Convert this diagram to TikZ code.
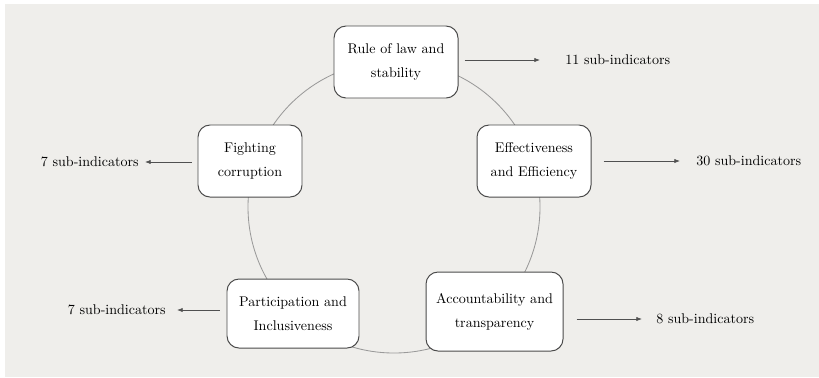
\documentclass[tikz,border=0pt]{standalone}
\usetikzlibrary{arrows.meta}

\definecolor{panelgray}{HTML}{EFEEEB}
\definecolor{boxline}{HTML}{4A4A4A}
\definecolor{ringline}{HTML}{9A9A9A}
\definecolor{arrowline}{HTML}{505050}

\newcommand\pxw{0.025cm}
\newcommand\pillartextstyle{\fontsize{10}{17}\selectfont}
\newcommand\counttextstyle{\fontsize{10}{13}\selectfont}

\tikzset{
  pillar/.style={draw=boxline, fill=white, line width=0.7pt,
    rounded corners=0.3cm, align=center, inner sep=0pt,
    font=\pillartextstyle},
  subcount/.style={inner sep=0pt, font=\counttextstyle},
  subarrow/.style={draw=arrowline, line width=0.5pt,
    -{Latex[length=4pt,width=3pt]}},
  ring/.style={draw=ringline, line width=0.6pt},
}

% name, x, y, width, height, text
\newcommand\pillar[6]{
  \node[pillar, minimum width=#4*\pxw, minimum height=#5*\pxw] (#1) at (#2,#3) {#6};
}

\begin{document}
\begin{tikzpicture}[x=\pxw, y=-\pxw]
  \useasboundingbox (0,0) rectangle (819,377);
  \fill[panelgray] (5,4) rectangle (819,377);
  \draw[ring] (394,207) circle[radius=146*\pxw];

  \pillar{rule}{396}{62}{124}{72}{Rule of law and\\stability}
  \pillar{effect}{534}{161}{114}{72}{Effectiveness\\and Efficiency}
  \pillar{account}{494.5}{311.5}{137}{79}{Accountability and\\transparency}
  \pillar{partic}{293}{313.5}{132}{69}{Participation and\\Inclusiveness}
  \pillar{corrupt}{250}{161}{104}{72}{Fighting\\corruption}

  \node[subcount, anchor=west] (rulecount) at (565,60) {11 sub-indicators};
  \node[subcount, anchor=west] (effectcount) at (696,161) {30 sub-indicators};
  \node[subcount, anchor=west] (accountcount) at (656,319) {8 sub-indicators};
  \node[subcount, anchor=east] (particcount) at (166,310) {7 sub-indicators};
  \node[subcount, anchor=east] (corruptcount) at (139,162) {7 sub-indicators};

  \draw[subarrow, shorten <=6*\pxw, shorten >=25*\pxw] (rule.east |- rulecount.west) -- (rulecount.west);
  \draw[subarrow, shorten <=12*\pxw, shorten >=16*\pxw] (effect.east |- effectcount.west) -- (effectcount.west);
  \draw[subarrow, shorten <=13*\pxw, shorten >=14*\pxw] (account.east |- accountcount.west) -- (accountcount.west);
  \draw[subarrow, shorten <=7*\pxw, shorten >=11*\pxw] (partic.west |- particcount.east) -- (particcount.east);
  \draw[subarrow, shorten <=6*\pxw, shorten >=6*\pxw] (corrupt.west |- corruptcount.east) -- (corruptcount.east);
\end{tikzpicture}
\end{document}
